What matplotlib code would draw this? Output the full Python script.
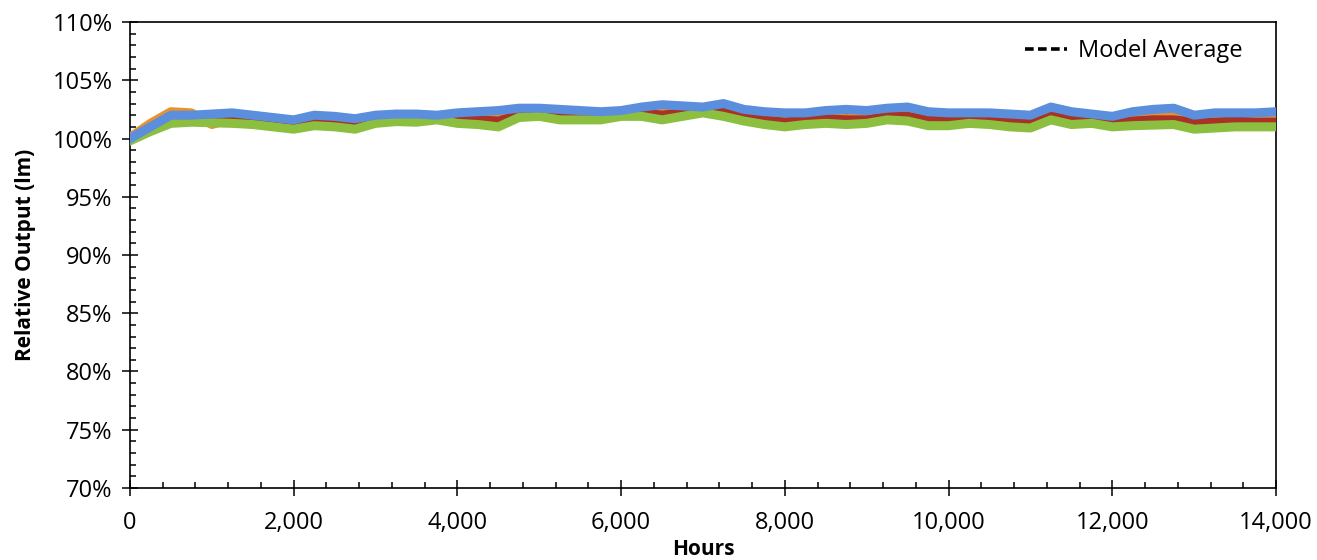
import matplotlib
matplotlib.use("Agg")
import matplotlib.pyplot as plt
from matplotlib.ticker import MultipleLocator, FuncFormatter

plt.rcParams["font.family"] = ["Open Sans", "DejaVu Sans"]

# hours of each reading
hours = [0, 250, 500, 750, 1000, 1250, 1500, 1750, 2000, 2250, 2500, 2750,
         3000, 3250, 3500, 3750, 4000, 4250, 4500, 4750, 5000, 5250, 5500, 5750,
         6000, 6250, 6500, 6750, 7000, 7250, 7500, 7750, 8000, 8250, 8500, 8750,
         9000, 9250, 9500, 9750, 10000, 10250, 10500, 10750, 11000, 11250, 11500,
         11750, 12000, 12250, 12500, 12750, 13000, 13250, 13500, 13750, 14000]

# relative output (%) per sample
navy = [100.0, 101.2, 102.2, 101.9, 101.9, 102.0, 101.9, 101.7, 101.5, 101.8, 101.7, 101.6,
        101.9, 101.9, 102.0, 101.9, 102.1, 102.2, 102.3, 102.4, 102.4, 102.3, 102.2, 102.1,
        102.3, 102.5, 102.6, 102.5, 102.5, 102.8, 102.3, 102.0, 101.9, 102.0, 102.2, 102.2,
        102.1, 102.4, 102.4, 102.1, 102.0, 102.0, 102.0, 101.9, 101.8, 102.4, 102.0,
        101.9, 101.7, 102.0, 102.2, 102.3, 101.8, 101.9, 101.9, 101.8, 101.8]
orange = [100.1, 101.3, 102.3, 102.2, 101.2, 101.7, 101.7, 101.5, 101.4, 101.7, 101.6, 101.4,
          101.6, 101.7, 101.8, 101.7, 101.8, 101.7, 101.7, 102.1, 102.2, 102.0, 102.0, 102.0,
          102.0, 102.3, 102.2, 102.3, 102.4, 102.4, 102.0, 101.7, 101.6, 101.7, 101.8, 101.7,
          101.8, 102.0, 102.0, 101.7, 101.7, 101.8, 101.7, 101.6, 101.5, 102.1, 101.8,
          101.7, 101.5, 101.7, 101.8, 101.9, 101.5, 101.6, 101.6, 101.6, 101.6]
red = [99.9, 100.9, 101.8, 101.7, 101.6, 101.8, 101.7, 101.5, 101.3, 101.6, 101.5, 101.3,
       101.6, 101.8, 101.7, 101.8, 101.7, 101.6, 101.5, 102.0, 102.1, 101.9, 101.9, 101.9,
       102.1, 102.2, 102.0, 102.2, 102.4, 102.3, 101.8, 101.6, 101.4, 101.6, 101.7, 101.6,
       101.6, 101.9, 101.9, 101.6, 101.5, 101.7, 101.6, 101.5, 101.3, 102.0, 101.6,
       101.6, 101.4, 101.5, 101.6, 101.6, 101.4, 101.4, 101.5, 101.4, 101.4]
green = [99.8, 100.6, 101.3, 101.4, 101.35, 101.3, 101.2, 101.0, 100.8, 101.1, 101.0, 100.8,
         101.3, 101.45, 101.4, 101.6, 101.3, 101.2, 101.0, 101.8, 101.9, 101.6, 101.6, 101.6,
         101.9, 101.9, 101.6, 101.9, 102.2, 101.9, 101.5, 101.2, 101.0, 101.2, 101.3, 101.2,
         101.3, 101.6, 101.5, 101.1, 101.1, 101.3, 101.2, 101.0, 100.9, 101.6, 101.2,
         101.3, 101.0, 101.1, 101.15, 101.2, 100.8, 100.9, 101.0, 101.0, 101.0]
light_blue = [100.0, 101.0, 102.0, 102.0, 102.1, 102.2, 102.0, 101.8, 101.6, 102.0, 101.9, 101.7,
              102.0, 102.1, 102.1, 102.0, 102.2, 102.3, 102.4, 102.6, 102.6, 102.5, 102.4, 102.3,
              102.4, 102.7, 102.9, 102.8, 102.7, 103.0, 102.5, 102.3, 102.2, 102.2, 102.4, 102.5,
              102.4, 102.6, 102.7, 102.3, 102.2, 102.2, 102.2, 102.1, 102.0, 102.7, 102.3,
              102.1, 101.9, 102.3, 102.5, 102.6, 102.0, 102.2, 102.2, 102.2, 102.3]
model_avg = [100.0, 101.0, 101.9, 101.8, 101.7, 101.7, 101.7, 101.5, 101.3, 101.6, 101.5, 101.4,
             101.7, 101.8, 101.8, 101.8, 101.8, 101.8, 101.8, 102.1, 102.2, 102.0, 102.0, 102.0,
             102.1, 102.3, 102.3, 102.3, 102.4, 102.5, 102.0, 101.8, 101.6, 101.7, 101.9, 101.8,
             101.8, 102.1, 102.1, 101.8, 101.7, 101.8, 101.7, 101.6, 101.5, 102.2, 101.8,
             101.7, 101.5, 101.7, 101.8, 101.9, 101.5, 101.6, 101.6, 101.6, 101.6]

series = [
    (navy, "#1F3A6E"),
    (orange, "#E8922E"),
    (red, "#A83226"),
    (green, "#8CBF3F"),
    (light_blue, "#5B8EDC"),
]

fig = plt.figure(figsize=(13.17, 5.6), dpi=100)
ax = fig.add_axes([0.0987, 0.1286, 0.8702, 0.8321])

ax.plot(hours, model_avg, color="black", lw=2.6, ls=(0, (2.4, 1.2)),
        label="Model Average", zorder=2)
for vals, col in series:
    ax.plot(hours, vals, color=col, lw=6.5, solid_joinstyle="round", zorder=3)

ax.set_xlim(0, 14000)
ax.set_ylim(70, 110)
ax.xaxis.set_major_locator(MultipleLocator(2000))
ax.xaxis.set_minor_locator(MultipleLocator(400))
ax.yaxis.set_major_locator(MultipleLocator(5))
ax.yaxis.set_minor_locator(MultipleLocator(1))
ax.xaxis.set_major_formatter(FuncFormatter(lambda v, p: f"{v:,.0f}"))
ax.yaxis.set_major_formatter(FuncFormatter(lambda v, p: f"{v:.0f}%"))

ax.tick_params(which="major", direction="inout", length=11, width=1.1,
               labelsize=17, color="black")
ax.tick_params(which="minor", direction="in", length=4.5, width=1.1)
ax.tick_params(axis="x", which="major", pad=11)
ax.tick_params(axis="y", which="major", pad=7)
for s in ax.spines.values():
    s.set_linewidth(1.2)

ax.set_xlabel("Hours", fontsize=15, fontweight="bold", labelpad=3)
ax.set_ylabel("Relative Output (lm)", fontsize=15, fontweight="bold", labelpad=12)

ax.legend(loc="upper right", bbox_to_anchor=(0.979, 0.983), borderaxespad=0,
          frameon=False, fontsize=17, handlelength=1.8, handletextpad=0.45)

fig.savefig("out.png", dpi=100)
